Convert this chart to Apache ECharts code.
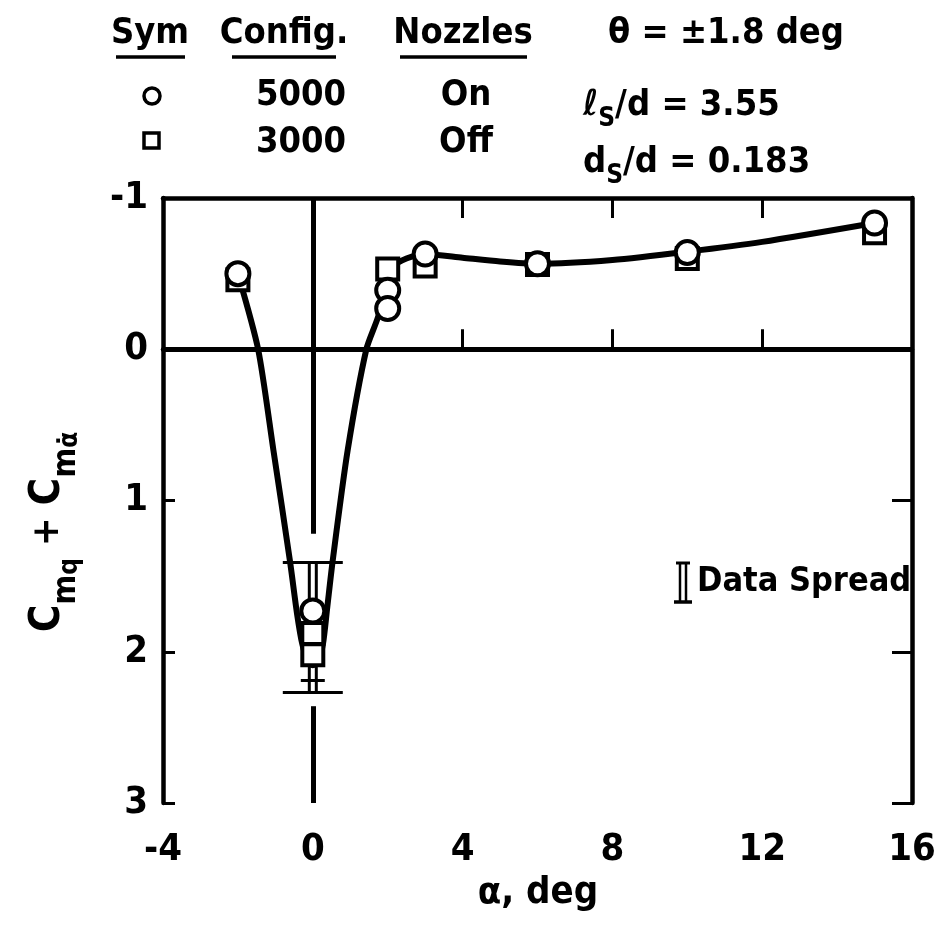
<!DOCTYPE html>
<html>
<head>
<meta charset="utf-8">
<script src="https://cdn.jsdelivr.net/npm/echarts@6/dist/echarts.min.js"></script>
<style>
  html, body { margin: 0; padding: 0; background: #fff; }
  #chart { width: 941px; height: 925px; }
</style>
</head>
<body>
<div id="chart"></div>
<script>
// Angle of attack ticks and coefficient ticks
const xTicks = [-4, 0, 4, 8, 12, 16];
const yTicks = [-1, 0, 1, 2, 3];

// Config. 5000, nozzles on (circles)
const circleAlpha = [-2, 0, 2, 2, 3, 6, 10, 15];
const circleCoef  = [-0.50, 1.73, -0.39, -0.27, -0.63, -0.565, -0.64, -0.835];

// Config. 3000, nozzles off (squares)
const squareAlpha = [-2, 0, 0, 2, 3, 6, 10, 15];
const squareCoef  = [-0.46, 1.88, 2.02, -0.53, -0.55, -0.56, -0.60, -0.77];

// Faired curve through the data
const curveAlpha = [-2, -1.46, -1.05, -0.61, -0.42, -0.28, -0.13, 0, 0.14, 0.27, 0.38, 0.53, 0.93, 1.43, 1.75, 1.95, 2.1, 2.5, 3, 4, 5, 6, 8, 10, 12, 15];
const curveCoef  = [-0.50, 0, 0.67, 1.40, 1.75, 1.95, 2.06, 2.09, 2.06, 1.95, 1.72, 1.40, 0.67, 0, -0.22, -0.45, -0.54, -0.60, -0.63, -0.605, -0.58, -0.565, -0.59, -0.645, -0.71, -0.835];

// Data spread bar at alpha = 0
const spreadAlpha = [0];
const spreadLow   = [1.41];
const spreadHigh  = [2.27];
const spreadMid   = [2.19];

// Vertical reference at alpha = 0 (broken around the spread bar)
const refUpper = [-1, 1.22];
const refLower = [2.36, 3];

const FONT = "'DejaVu Sans Condensed', 'DejaVu Sans', sans-serif";
const INK = '#000';

const zip = (a, b) => a.map((v, i) => [v, b[i]]);

const chart = echarts.init(document.getElementById('chart'), null, { renderer: 'canvas' });

const axisText = { color: INK, fontFamily: FONT, fontWeight: 'bold', fontSize: 38 };

const option = {
  backgroundColor: '#fff',
  animation: false,
  grid: { left: 163, right: 29, top: 198, bottom: 122, containLabel: false },
  xAxis: [
    {
      type: 'value', min: -4, max: 16, interval: 4, position: 'bottom',
      axisLine: { show: true, lineStyle: { color: INK, width: 4.5 } },
      axisTick: { show: true, inside: true, length: 20, lineStyle: { color: INK, width: 3 } },
      axisLabel: Object.assign({ margin: 28, formatter: v => xTicks.includes(v) ? String(v) : '' }, axisText),
      splitLine: { show: false }
    },
    {
      type: 'value', min: -4, max: 16, interval: 4, position: 'top',
      axisLine: { show: true, onZero: false, lineStyle: { color: INK, width: 4.5 } },
      axisTick: { show: true, inside: true, length: 20, lineStyle: { color: INK, width: 3 } },
      axisLabel: { show: false },
      splitLine: { show: false }
    }
  ],
  yAxis: [
    {
      type: 'value', min: -1, max: 3, interval: 1, inverse: true, position: 'left',
      axisLine: { show: true, onZero: false, lineStyle: { color: INK, width: 4.5 } },
      axisTick: { show: true, inside: true, length: 12, lineStyle: { color: INK, width: 3 } },
      axisLabel: Object.assign({ margin: 15, formatter: v => yTicks.includes(v) ? String(v) : '' }, axisText),
      splitLine: { show: false }
    },
    {
      type: 'value', min: -1, max: 3, interval: 1, inverse: true, position: 'right',
      axisLine: { show: true, onZero: false, lineStyle: { color: INK, width: 4.5 } },
      axisTick: { show: true, inside: true, length: 20, lineStyle: { color: INK, width: 3 } },
      axisLabel: { show: false },
      splitLine: { show: false }
    }
  ],
  series: [
    {
      name: 'reference',
      type: 'line',
      data: [],
      silent: true,
      markLine: {
        silent: true,
        symbol: ['none', 'none'],
        label: { show: false },
        lineStyle: { color: INK, width: 5, type: 'solid', opacity: 1 },
        data: [
          { yAxis: 0 },
          [{ coord: [0, refUpper[0]] }, { coord: [0, refUpper[1]] }],
          [{ coord: [0, refLower[0]] }, { coord: [0, refLower[1]] }]
        ]
      }
    },
    {
      name: 'fairing',
      type: 'line',
      data: zip(curveAlpha, curveCoef),
      smooth: 0.25,
      showSymbol: false,
      silent: true,
      lineStyle: { color: INK, width: 6 },
      z: 3
    },
    {
      name: 'spread',
      type: 'custom',
      silent: true,
      z: 4,
      data: spreadAlpha.map((a, i) => [a, spreadLow[i], spreadHigh[i], spreadMid[i]]),
      renderItem: function (params, api) {
        const top = api.coord([api.value(0), api.value(1)]);
        const bot = api.coord([api.value(0), api.value(2)]);
        const mid = api.coord([api.value(0), api.value(3)]);
        const x = top[0];
        const st = { stroke: INK, lineWidth: 3 };
        return {
          type: 'group',
          children: [
            { type: 'line', shape: { x1: x - 3.5, y1: top[1], x2: x - 3.5, y2: bot[1] }, style: st },
            { type: 'line', shape: { x1: x + 3.5, y1: top[1], x2: x + 3.5, y2: bot[1] }, style: st },
            { type: 'line', shape: { x1: x - 30, y1: top[1], x2: x + 30, y2: top[1] }, style: st },
            { type: 'line', shape: { x1: x - 30, y1: bot[1], x2: x + 30, y2: bot[1] }, style: st },
            { type: 'line', shape: { x1: x - 12, y1: mid[1], x2: x + 12, y2: mid[1] }, style: st }
          ]
        };
      }
    },
    {
      name: '3000',
      type: 'scatter',
      data: zip(squareAlpha, squareCoef),
      symbol: 'rect',
      symbolSize: 21,
      itemStyle: { color: '#fff', borderColor: INK, borderWidth: 4, opacity: 1 },
      z: 5
    },
    {
      name: '5000',
      type: 'scatter',
      data: zip(circleAlpha, circleCoef),
      symbol: 'circle',
      symbolSize: 23,
      itemStyle: { color: '#fff', borderColor: INK, borderWidth: 4, opacity: 1 },
      z: 6
    }
  ],
  graphic: [
    // column headers
    { type: 'text', x: 150, y: 34, style: { text: 'Sym', font: 'bold 36px ' + FONT, fill: INK, align: 'center', verticalAlign: 'middle' } },
    { type: 'text', x: 284, y: 34, style: { text: 'Config.', font: 'bold 36px ' + FONT, fill: INK, align: 'center', verticalAlign: 'middle' } },
    { type: 'text', x: 463, y: 34, style: { text: 'Nozzles', font: 'bold 36px ' + FONT, fill: INK, align: 'center', verticalAlign: 'middle' } },
    { type: 'line', shape: { x1: 116, y1: 57, x2: 185, y2: 57 }, style: { stroke: INK, lineWidth: 3.5 } },
    { type: 'line', shape: { x1: 232, y1: 57, x2: 336, y2: 57 }, style: { stroke: INK, lineWidth: 3.5 } },
    { type: 'line', shape: { x1: 400, y1: 57, x2: 527, y2: 57 }, style: { stroke: INK, lineWidth: 3.5 } },
    { type: 'text', x: 726, y: 34, style: { text: 'θ = ±1.8 deg', font: 'bold 36px ' + FONT, fill: INK, align: 'center', verticalAlign: 'middle' } },
    // rows
    { type: 'circle', shape: { cx: 152, cy: 96, r: 8 }, style: { fill: '#fff', stroke: INK, lineWidth: 3.5 } },
    { type: 'rect', shape: { x: 144, y: 133, width: 15, height: 15 }, style: { fill: '#fff', stroke: INK, lineWidth: 3.5 } },
    { type: 'text', x: 301, y: 96, style: { text: '5000', font: 'bold 36px ' + FONT, fill: INK, align: 'center', verticalAlign: 'middle' } },
    { type: 'text', x: 301, y: 143, style: { text: '3000', font: 'bold 36px ' + FONT, fill: INK, align: 'center', verticalAlign: 'middle' } },
    { type: 'text', x: 466, y: 96, style: { text: 'On', font: 'bold 36px ' + FONT, fill: INK, align: 'center', verticalAlign: 'middle' } },
    { type: 'text', x: 466, y: 143, style: { text: 'Off', font: 'bold 36px ' + FONT, fill: INK, align: 'center', verticalAlign: 'middle' } },
    {
      type: 'text', x: 583, y: 106,
      style: {
        text: '{b|ℓ}{s|S}{b|/d = 3.55}', align: 'left', verticalAlign: 'middle', fill: INK,
        rich: {
          b: { fontFamily: FONT, fontWeight: 'bold', fontSize: 36, lineHeight: 52, fill: INK },
          s: { fontFamily: FONT, fontWeight: 'bold', fontSize: 26, lineHeight: 22, verticalAlign: 'bottom', fill: INK }
        }
      }
    },
    {
      type: 'text', x: 583, y: 163,
      style: {
        text: '{b|d}{s|S}{b|/d = 0.183}', align: 'left', verticalAlign: 'middle', fill: INK,
        rich: {
          b: { fontFamily: FONT, fontWeight: 'bold', fontSize: 36, lineHeight: 52, fill: INK },
          s: { fontFamily: FONT, fontWeight: 'bold', fontSize: 26, lineHeight: 22, verticalAlign: 'bottom', fill: INK }
        }
      }
    },
    // data spread key
    { type: 'line', shape: { x1: 680, y1: 563, x2: 680, y2: 602 }, style: { stroke: INK, lineWidth: 2.5 } },
    { type: 'line', shape: { x1: 686, y1: 563, x2: 686, y2: 602 }, style: { stroke: INK, lineWidth: 2.5 } },
    { type: 'line', shape: { x1: 676, y1: 563, x2: 690, y2: 563 }, style: { stroke: INK, lineWidth: 3 } },
    { type: 'line', shape: { x1: 674, y1: 602, x2: 692, y2: 602 }, style: { stroke: INK, lineWidth: 3.5 } },
    { type: 'text', x: 697, y: 582, style: { text: 'Data Spread', font: 'bold 34px ' + FONT, fill: INK, align: 'left', verticalAlign: 'middle' } },
    // x axis title
    { type: 'text', x: 538, y: 893, style: { text: 'α, deg', font: 'bold 38px ' + FONT, fill: INK, align: 'center', verticalAlign: 'middle' } },
    // y axis title
    {
      type: 'text', x: 48, y: 532, rotation: Math.PI / 2,
      style: {
        text: '{c|C}{s|m}{ss|q}{p| + }{c|C}{s|m}{ss|α̇}', align: 'center', verticalAlign: 'middle', fill: INK,
        rich: {
          c: { fontFamily: FONT, fontWeight: 'bold', fontSize: 42, lineHeight: 70, fill: INK },
          p: { fontFamily: FONT, fontWeight: 'bold', fontSize: 38, lineHeight: 70, fill: INK },
          s: { fontFamily: FONT, fontWeight: 'bold', fontSize: 32, lineHeight: 44, verticalAlign: 'bottom', fill: INK },
          ss: { fontFamily: FONT, fontWeight: 'bold', fontSize: 26, lineHeight: 22, verticalAlign: 'bottom', fill: INK }
        }
      }
    }
  ]
};

chart.setOption(option);
</script>
</body>
</html>
